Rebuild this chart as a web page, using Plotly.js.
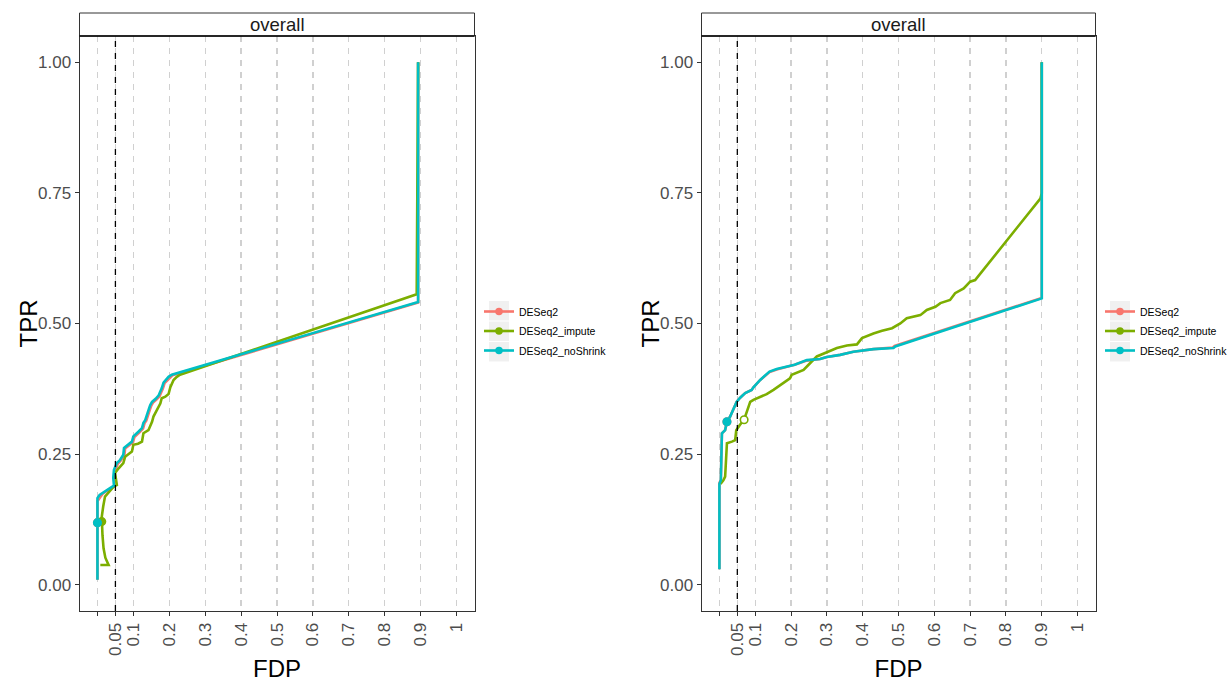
<!DOCTYPE html>
<html>
<head>
<meta charset="utf-8">
<script src="https://cdn.plot.ly/plotly-3.0.1.min.js"></script>
<style>html,body{margin:0;padding:0;background:#fff;overflow:hidden;}#chart{width:1228px;height:682px;}</style>
</head>
<body>
<div id="chart"></div>
<script>
// ---------------- data ----------------
var methods = ['DESeq2', 'DESeq2_impute', 'DESeq2_noShrink'];
var colors = ['#F8766D', '#7CAE00', '#00BFC4'];

var tickVals = [0, 0.05, 0.1, 0.2, 0.3, 0.4, 0.5, 0.6, 0.7, 0.8, 0.9, 1];
var tickText = ['', '0.05', '0.1', '0.2', '0.3', '0.4', '0.5', '0.6', '0.7', '0.8', '0.9', '1'];
var yTickVals = [0, 0.25, 0.5, 0.75, 1];
var yTickText = ['0.00', '0.25', '0.50', '0.75', '1.00'];
var fdrThreshold = 0.05;
var panelLabel = 'overall';
var xTitle = 'FDP';
var yTitle = 'TPR';

// left panel
var L_fdp_DESeq2 = [0, 0, 0.008, 0.014, 0.024, 0.037, 0.048, 0.046, 0.049, 0.057, 0.064, 0.075, 0.077, 0.085, 0.099, 0.103, 0.110, 0.117, 0.127, 0.131, 0.136, 0.141, 0.147, 0.150, 0.155, 0.165, 0.173, 0.178, 0.182, 0.187, 0.195, 0.201, 0.209, 0.893, 0.893];
var L_tpr_DESeq2 = [0.01, 0.160, 0.168, 0.174, 0.179, 0.184, 0.189, 0.204, 0.219, 0.232, 0.237, 0.248, 0.261, 0.265, 0.273, 0.283, 0.287, 0.292, 0.299, 0.309, 0.314, 0.327, 0.337, 0.343, 0.349, 0.355, 0.361, 0.369, 0.375, 0.386, 0.392, 0.397, 0.401, 0.540, 1.0];
var L_fdp_impute = [0.008, 0.031, 0.022, 0.017, 0.014, 0.012, 0.012, 0.016, 0.021, 0.030, 0.045, 0.054, 0.049, 0.059, 0.072, 0.077, 0.086, 0.096, 0.100, 0.113, 0.124, 0.128, 0.142, 0.148, 0.152, 0.156, 0.165, 0.175, 0.179, 0.189, 0.198, 0.203, 0.212, 0.221, 0.230, 0.889, 0.893];
var L_tpr_impute = [0.038, 0.038, 0.052, 0.070, 0.095, 0.121, 0.130, 0.150, 0.169, 0.176, 0.188, 0.191, 0.214, 0.223, 0.233, 0.245, 0.250, 0.255, 0.268, 0.270, 0.274, 0.290, 0.296, 0.305, 0.312, 0.322, 0.335, 0.347, 0.357, 0.360, 0.365, 0.378, 0.392, 0.398, 0.402, 0.556, 1.0];
var L_fdp_noShrink = [0, 0, 0.006, 0.012, 0.022, 0.035, 0.046, 0.044, 0.046, 0.054, 0.062, 0.072, 0.074, 0.082, 0.096, 0.100, 0.107, 0.114, 0.124, 0.128, 0.133, 0.138, 0.144, 0.147, 0.152, 0.162, 0.170, 0.175, 0.179, 0.184, 0.192, 0.198, 0.207, 0.893, 0.893];
var L_tpr_noShrink = [0.01, 0.166, 0.172, 0.175, 0.180, 0.185, 0.190, 0.205, 0.220, 0.233, 0.238, 0.249, 0.262, 0.266, 0.274, 0.284, 0.288, 0.293, 0.300, 0.310, 0.315, 0.328, 0.338, 0.344, 0.350, 0.356, 0.362, 0.370, 0.376, 0.387, 0.393, 0.398, 0.402, 0.541, 1.0];
var L_pt_fdp = [0, 0.012, 0];
var L_pt_tpr = [0.119, 0.121, 0.119];
var L_pt_filled = [true, true, true];

// right panel
var R_fdp_DESeq2 = [0, 0, 0.004, 0.006, 0.007, 0.016, 0.021, 0.030, 0.039, 0.048, 0.058, 0.072, 0.090, 0.095, 0.114, 0.140, 0.160, 0.188, 0.210, 0.244, 0.281, 0.300, 0.337, 0.374, 0.430, 0.484, 0.489, 0.900, 0.900];
var R_tpr_DESeq2 = [0.03, 0.195, 0.201, 0.239, 0.290, 0.296, 0.312, 0.322, 0.338, 0.350, 0.358, 0.367, 0.373, 0.378, 0.392, 0.407, 0.412, 0.417, 0.421, 0.429, 0.432, 0.436, 0.440, 0.446, 0.451, 0.454, 0.457, 0.549, 1.0];
var R_fdp_impute = [0.003, 0.011, 0.016, 0.019, 0.021, 0.035, 0.044, 0.047, 0.053, 0.057, 0.069, 0.076, 0.086, 0.095, 0.114, 0.132, 0.151, 0.175, 0.197, 0.202, 0.235, 0.253, 0.272, 0.300, 0.328, 0.356, 0.384, 0.398, 0.430, 0.454, 0.482, 0.505, 0.523, 0.561, 0.579, 0.603, 0.617, 0.644, 0.658, 0.682, 0.700, 0.714, 0.896, 0.900, 0.900];
var R_tpr_impute = [0.193, 0.200, 0.207, 0.245, 0.271, 0.274, 0.277, 0.296, 0.303, 0.306, 0.316, 0.330, 0.350, 0.354, 0.360, 0.365, 0.373, 0.384, 0.395, 0.402, 0.411, 0.424, 0.437, 0.445, 0.453, 0.458, 0.460, 0.472, 0.481, 0.486, 0.491, 0.500, 0.510, 0.516, 0.526, 0.532, 0.539, 0.545, 0.558, 0.567, 0.580, 0.583, 0.739, 0.749, 1.0];
var R_fdp_noShrink = [0, 0, 0.004, 0.006, 0.007, 0.016, 0.021, 0.030, 0.039, 0.048, 0.058, 0.072, 0.090, 0.095, 0.114, 0.140, 0.160, 0.188, 0.210, 0.244, 0.281, 0.300, 0.337, 0.374, 0.430, 0.486, 0.491, 0.900, 0.900];
var R_tpr_noShrink = [0.03, 0.193, 0.200, 0.239, 0.290, 0.296, 0.312, 0.322, 0.338, 0.350, 0.358, 0.367, 0.373, 0.378, 0.392, 0.408, 0.413, 0.417, 0.421, 0.430, 0.432, 0.436, 0.440, 0.446, 0.451, 0.453, 0.456, 0.548, 1.0];
var R_pt_fdp = [0.021, 0.069, 0.021];
var R_pt_tpr = [0.312, 0.316, 0.312];
var R_pt_filled = [true, false, true];

// ---------------- build ----------------
var FONT = 'Liberation Sans, Arial, Helvetica, sans-serif';
var traces = [];
function addPanel(xa, ya, leg, fdps, tprs, ptX, ptY, ptFilled) {
  for (var i = 0; i < 3; i++) {
    traces.push({x: fdps[i], y: tprs[i], xaxis: xa, yaxis: ya, type: 'scatter', mode: 'lines',
      line: {color: colors[i], width: 2.6}, showlegend: false, hoverinfo: 'skip'});
  }
  for (var i = 0; i < 3; i++) {
    traces.push({x: [ptX[i]], y: [ptY[i]], xaxis: xa, yaxis: ya, type: 'scatter', mode: 'markers',
      marker: {symbol: 'circle', size: 7.5, color: ptFilled[i] ? colors[i] : '#ffffff',
        line: {color: colors[i], width: 1.6}}, showlegend: false, hoverinfo: 'skip'});
  }
  for (var i = 0; i < 3; i++) {
    traces.push({x: [null], y: [null], xaxis: xa, yaxis: ya, type: 'scatter', mode: 'lines+markers',
      name: methods[i], legend: leg, legendgroup: leg + '_' + i, line: {color: colors[i], width: 2.6},
      marker: {color: colors[i], size: 7.5}, showlegend: true});
  }
}
addPanel('x', 'y', 'legend',
  [L_fdp_DESeq2, L_fdp_impute, L_fdp_noShrink], [L_tpr_DESeq2, L_tpr_impute, L_tpr_noShrink],
  L_pt_fdp, L_pt_tpr, L_pt_filled);
addPanel('x2', 'y2', 'legend2',
  [R_fdp_DESeq2, R_fdp_impute, R_fdp_noShrink], [R_tpr_DESeq2, R_tpr_impute, R_tpr_noShrink],
  R_pt_fdp, R_pt_tpr, R_pt_filled);

var W = 1228, H = 682;
function px(v) { return v / W; }
function py(v) { return (H - v) / H; }

function xaxisDef(dom, anchor) {
  return {domain: dom, anchor: anchor, range: [-0.05, 1.05], tickmode: 'array', tickvals: tickVals, ticktext: tickText,
    tickangle: -90, tickfont: {family: FONT, size: 17, color: '#4d4d4d'},
    ticks: 'outside', ticklen: 4, tickwidth: 1, tickcolor: '#333333',
    showgrid: true, gridcolor: '#d0d0d0', gridwidth: 1.3, griddash: '6px,6px',
    showline: true, mirror: true, linecolor: '#333333', linewidth: 1, zeroline: false,
    title: {text: xTitle, font: {family: FONT, size: 24, color: '#000000'}, standoff: 6}};
}
function yaxisDef(anchor) {
  return {domain: [py(611), py(36)], anchor: anchor, range: [-0.05, 1.05], tickmode: 'array', tickvals: yTickVals, ticktext: yTickText,
    tickfont: {family: FONT, size: 17, color: '#4d4d4d'},
    ticks: 'outside', ticklen: 4, tickwidth: 1, tickcolor: '#333333',
    showgrid: false, showline: true, mirror: true, linecolor: '#333333', linewidth: 1, zeroline: false};
}

var panels = [{l: 79.5, r: 474.5, xa: 'x', ya: 'y', legX: 479, boxX: 499, yt: 28},
              {l: 701.5, r: 1095.5, xa: 'x2', ya: 'y2', legX: 1100, boxX: 1120, yt: 650}];
var shapes = [], annotations = [];
panels.forEach(function (p) {
  // strip
  shapes.push({type: 'rect', xref: 'paper', yref: 'paper', x0: px(p.l), x1: px(p.r), y0: py(36), y1: py(13),
    fillcolor: '#ffffff', line: {color: '#333333', width: 1}});
  shapes.push({type: 'line', xref: 'paper', yref: 'paper', x0: px(p.l), x1: px(p.r), y0: py(36), y1: py(36),
    line: {color: '#000000', width: 1.4}});
  annotations.push({xref: 'paper', yref: 'paper', x: (px(p.l) + px(p.r)) / 2, y: py(24.5), text: panelLabel,
    showarrow: false, xanchor: 'center', yanchor: 'middle', font: {family: FONT, size: 18.5, color: '#1a1a1a'}});
  // y title
  annotations.push({xref: 'paper', yref: 'paper', x: px(p.yt), y: py(323.5), text: yTitle, textangle: -90,
    showarrow: false, xanchor: 'center', yanchor: 'middle', font: {family: FONT, size: 24, color: '#000000'}});
  // threshold line
  shapes.push({type: 'line', xref: p.xa, yref: p.ya + ' domain', x0: fdrThreshold, x1: fdrThreshold, y0: 0, y1: 1,
    line: {color: '#000000', width: 1.3, dash: '6px,6px'}, layer: 'above'});
  // legend key backgrounds
  for (var k = 0; k < 3; k++) {
    shapes.push({type: 'rect', xref: 'paper', yref: 'paper', x0: px(p.boxX - 10), x1: px(p.boxX + 10),
      y0: py(301 + k * 20.5 + 19.5), y1: py(301 + k * 20.5), fillcolor: '#f0f0f0', line: {width: 0}, layer: 'below'});
  }
});

var legendDef = function (x) {
  return {x: px(x), y: py(331), xanchor: 'left', yanchor: 'middle', bgcolor: 'rgba(0,0,0,0)',
    font: {family: FONT, size: 10.5, color: '#000000'}, traceorder: 'grouped', tracegroupgap: 0.5,
    itemwidth: 30, borderwidth: 0};
};

var layout = {
  width: W, height: H, margin: {l: 0, r: 0, t: 0, b: 0, autoexpand: false}, paper_bgcolor: '#ffffff', plot_bgcolor: '#ffffff',
  font: {family: FONT},
  xaxis: xaxisDef([px(79.5), px(474.5)], 'y'),
  yaxis: yaxisDef('x'),
  xaxis2: xaxisDef([px(701.5), px(1095.5)], 'y2'),
  yaxis2: yaxisDef('x2'),
  legend: legendDef(panels[0].legX),
  legend2: legendDef(panels[1].legX),
  shapes: shapes, annotations: annotations, showlegend: true
};

Plotly.newPlot('chart', traces, layout, {displayModeBar: false, staticPlot: true});
</script>
</body>
</html>
